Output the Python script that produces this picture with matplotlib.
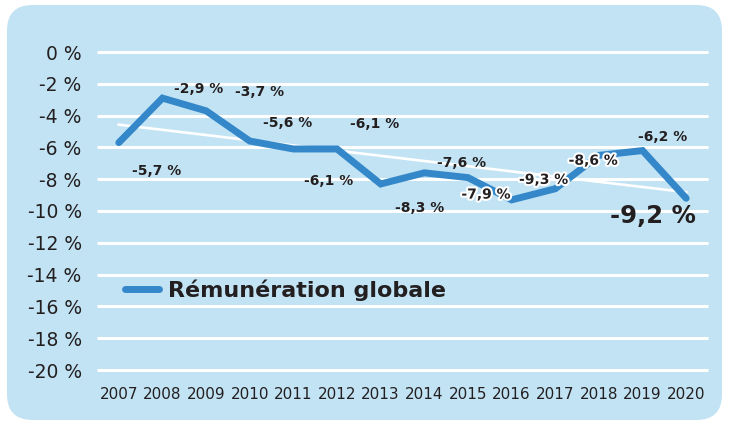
import matplotlib
matplotlib.use("Agg")
import matplotlib.pyplot as plt
import numpy as np
from matplotlib.patches import FancyBboxPatch
import matplotlib.patheffects as pe

years = [2007, 2008, 2009, 2010, 2011, 2012, 2013, 2014, 2015, 2016, 2017, 2018, 2019, 2020]
values = [-5.7, -2.9, -3.7, -5.6, -6.1, -6.1, -8.3, -7.6, -7.9, -9.3, -8.6, -6.5, -6.2, -9.2]
labeled = [True, True, True, True, True, True, True, True, True, True, True, False, True, True]
yticks = [0, -2, -4, -6, -8, -10, -12, -14, -16, -18, -20]
series_name = "Rémunération globale"

# label offsets in pixels (dx right, dy down)
offsets_px = [(38, 28), (36, -9), (53, -19), (38, -18), (35, 32), (38, -25), (39, 24),
              (37, -10), (18, 17), (32, -20), (38, -28), (0, 0), (20, -14), (-33, 18)]
halo = [False, False, False, False, False, False, False, False, True, True, True, False, False, False]

W, H = 730, 425
fig = plt.figure(figsize=(W / 100, H / 100), dpi=100)
fig.patch.set_facecolor("white")

bg = FancyBboxPatch((7 / W, 5 / H), (722 - 7) / W, (420 - 5) / H,
                    boxstyle="round,pad=0,rounding_size=0.035",
                    transform=fig.transFigure, facecolor="#C2E3F3", edgecolor="none",
                    mutation_aspect=W / H, zorder=-10)
fig.patches.append(bg)

ax = fig.add_axes([97 / W, (H - 370) / H, (708 - 97) / W, (370 - 52) / H])
ax.set_facecolor("none")
ax.set_xlim(2006.5, 2020.5)
ax.set_ylim(-20, 0)
for s in ax.spines.values():
    s.set_visible(False)

ax.hlines(yticks, 2006.5, 2020.5, colors="white", linewidth=2.2, clip_on=False, zorder=1)

# trend line
coef = np.polyfit(years, values, 1)
tx = np.array([years[0], years[-1]])
ax.plot(tx, np.polyval(coef, tx), color="white", linewidth=1.9, zorder=2)

ax.plot(years, values, color="#3488CA", linewidth=5, solid_capstyle="round",
        solid_joinstyle="miter", zorder=3, label=series_name)

txtcol = "#231F20"
for i, (yr, v) in enumerate(zip(years, values)):
    if not labeled[i]:
        continue
    dx, dy = offsets_px[i]
    s = f"{v:.1f}".replace(".", ",") + " %"
    big = (i == len(years) - 1)
    t = ax.annotate(s, xy=(yr, v), xytext=(dx * 0.72, -dy * 0.72), textcoords="offset points",
                    ha="center", va="center", fontsize=17.5 if big else 10,
                    fontweight="bold", color=txtcol, zorder=4, family="DejaVu Sans")
    if halo[i]:
        t.set_path_effects([pe.withStroke(linewidth=3, foreground="white")])

ax.set_yticks(yticks)
ax.set_yticklabels([f"{t} %" for t in yticks], fontsize=13.5, color=txtcol)
ax.set_xticks(years)
ax.set_xticklabels([str(y) for y in years], fontsize=11, color=txtcol,
                   family=["Liberation Sans Narrow", "DejaVu Sans"])
ax.tick_params(axis="y", length=0, pad=11)
ax.tick_params(axis="x", length=0, pad=12)

leg = ax.legend(loc="center left", bbox_to_anchor=((125 - 97) / 611, (370 - 290) / 318),
                frameon=False, prop={"weight": "bold", "size": 16}, handlelength=1.55,
                handletextpad=0.4, borderpad=0, borderaxespad=0)
for txt in leg.get_texts():
    txt.set_color(txtcol)

fig.savefig("out.png", dpi=100)
